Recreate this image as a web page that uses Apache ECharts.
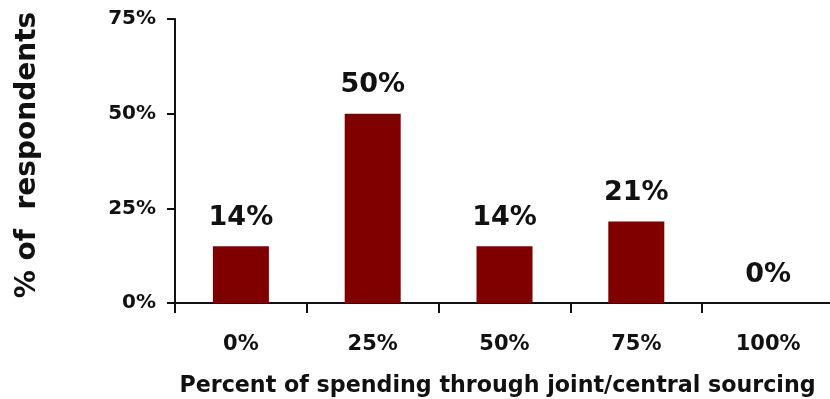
<!DOCTYPE html>
<html>
<head>
<meta charset="utf-8">
<script src="https://cdn.jsdelivr.net/npm/echarts@6/dist/echarts.min.js"></script>
<style>
    html, body { margin: 0; padding: 0; background: #fff; }
    #chart { width: 830px; height: 399px; }
</style>
</head>
<body>
<div id="chart"></div>
<script>
    // 图表数据
    var categories = ['0%', '25%', '50%', '75%', '100%'];
    var values = [15, 50, 15, 21.5, 0];
    var valueLabels = ['14%', '50%', '14%', '21%', '0%'];
    var yTicks = [0, 25, 50, 75];

    var font = 'DejaVu Sans';
    var myChart = echarts.init(document.getElementById('chart'));

    myChart.setOption({
        animation: false,
        grid: {left: 175, right: -4, top: 19, bottom: 96, outerBoundsMode: 'none', containLabel: false},
        xAxis: {
            type: 'category',
            data: categories,
            name: 'Percent of spending through joint/central sourcing',
            nameLocation: 'middle',
            nameGap: 72,
            nameTextStyle: {fontFamily: font, fontWeight: 'bold', fontSize: 22.2, color: '#111', padding: [0, 14, 0, 0]},
            axisLine: {lineStyle: {color: '#111', width: 2}},
            axisTick: {show: true, length: 10, lineStyle: {color: '#111', width: 2}},
            axisLabel: {margin: 31, fontFamily: font, fontWeight: 'bold', fontSize: 21, color: '#111'}
        },
        yAxis: {
            type: 'value',
            min: yTicks[0],
            max: yTicks[yTicks.length - 1],
            interval: yTicks[1] - yTicks[0],
            name: '% of  respondents',
            nameLocation: 'middle',
            nameGap: 133,
            nameTextStyle: {fontFamily: font, fontWeight: 'bold', fontSize: 28, color: '#111', padding: [0, 0, 0, 12]},
            splitLine: {show: false},
            axisLine: {show: true, lineStyle: {color: '#111', width: 2}},
            axisTick: {show: true, length: 8, lineStyle: {color: '#111', width: 2}},
            axisLabel: {margin: 19, formatter: '{value}%', fontFamily: font, fontWeight: 'bold', fontSize: 20, color: '#111'}
        },
        series: [{
            type: 'bar',
            data: values,
            barWidth: 56,
            itemStyle: {color: '#800000'},
            label: {
                show: true,
                position: 'top',
                distance: 15,
                formatter: function (p) { return valueLabels[p.dataIndex]; },
                fontFamily: font,
                fontWeight: 'bold',
                fontSize: 27,
                color: '#111'
            }
        }]
    });
</script>
</body>
</html>
